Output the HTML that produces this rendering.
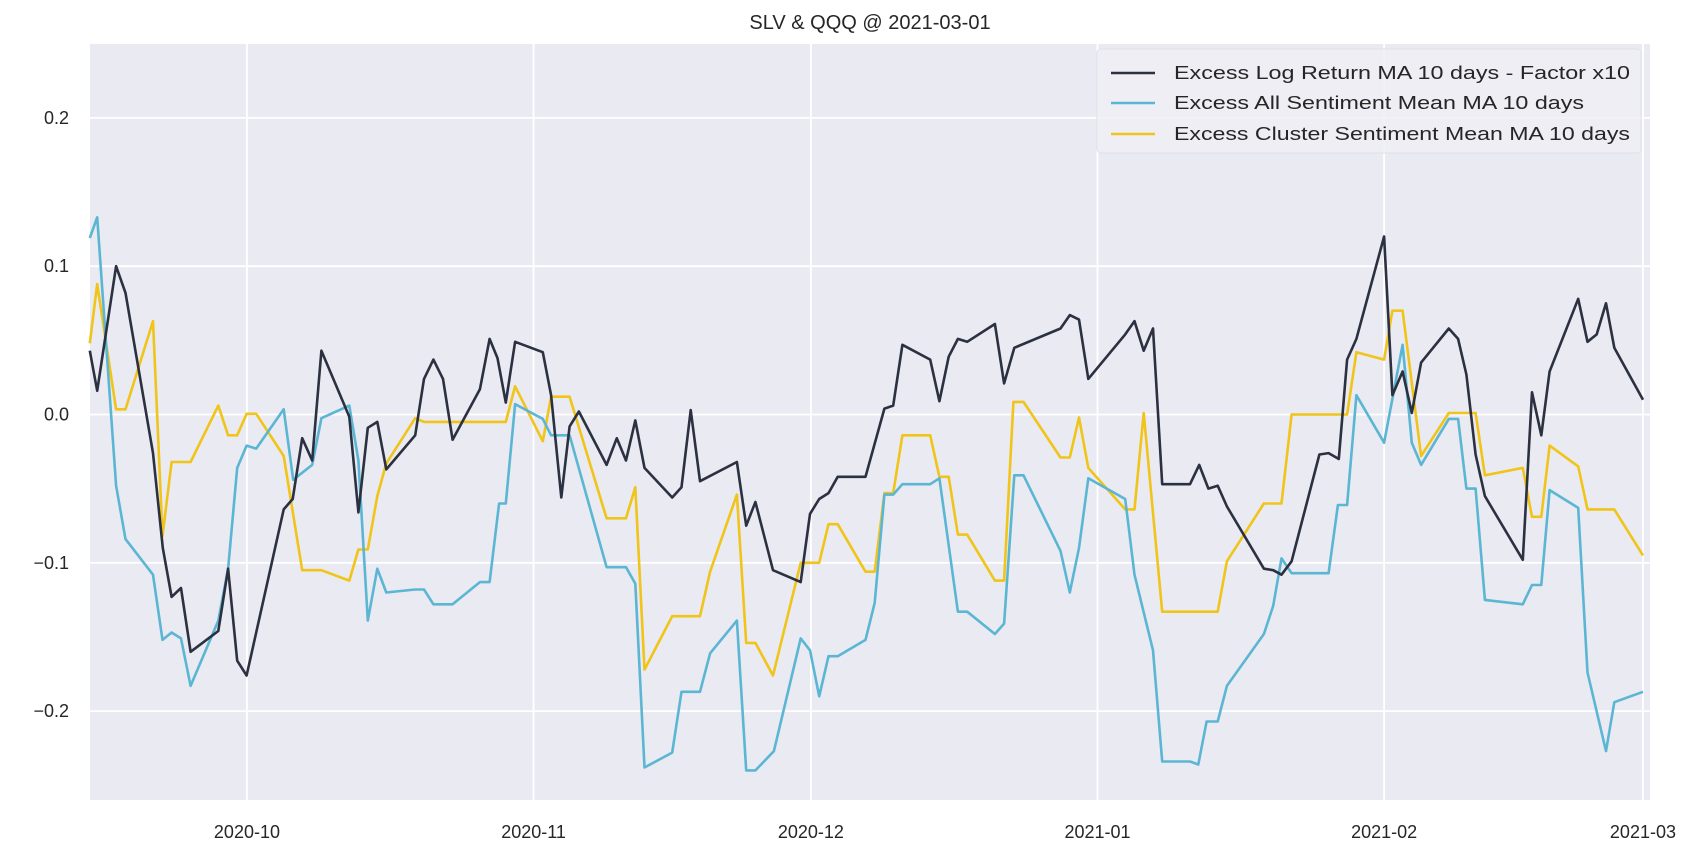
<!DOCTYPE html>
<html><head><meta charset="utf-8"><style>
html,body{margin:0;padding:0;background:#fff;}
svg{display:block;font-family:"Liberation Sans",sans-serif;}
</style></head><body>
<svg id="chart" width="1700" height="857" viewBox="0 0 1700 857" xmlns="http://www.w3.org/2000/svg">
<rect x="90" y="44" width="1560" height="756" fill="#EAEAF2"/>
<g id="grid"></g>
<g id="series"></g>
<g id="axes"></g>
<text x="870" y="29" text-anchor="middle" font-size="20" fill="#262626">SLV &amp; QQQ @ 2021-03-01</text>
<g>
<rect x="1097" y="49" width="544" height="104" rx="4" fill="#EEEEF5" fill-opacity="0.85" stroke="#E0E0E8"/>
<g>
<line x1="1111" y1="73" x2="1155" y2="73" stroke="#2B3140" stroke-width="2.6"/>
<text x="1174" y="79" font-size="18.5" fill="#262626" textLength="456" lengthAdjust="spacingAndGlyphs">Excess Log Return MA 10 days - Factor x10</text></g>
<g>
<line x1="1111" y1="103" x2="1155" y2="103" stroke="#5BB6D3" stroke-width="2.6"/>
<text x="1174" y="109" font-size="18.5" fill="#262626" textLength="410" lengthAdjust="spacingAndGlyphs">Excess All Sentiment Mean MA 10 days</text></g>
<g>
<line x1="1111" y1="134" x2="1155" y2="134" stroke="#F0C419" stroke-width="2.6"/>
<text x="1174" y="140" font-size="18.5" fill="#262626" textLength="456" lengthAdjust="spacingAndGlyphs">Excess Cluster Sentiment Mean MA 10 days</text></g>
</g>
</svg>
<script>
// days since 2020-09-14
const xTickDays = [17, 48, 78, 109, 140, 168];
const xTickLabels = ["2020-10","2020-11","2020-12","2021-01","2021-02","2021-03"];
const yTickValues = [-0.2, -0.1, 0.0, 0.1, 0.2];
const yTickLabels = ["\u22120.2","\u22120.1","0.0","0.1","0.2"];

const logDays = [0,0.8,2.84,3.86,6.84,7.9,8.85,9.87,10.9,13.9,14.96,15.94,16.96,20.97,21.95,22.97,24.06,25.05,28.07,29.05,30.07,31.1,32.07,35.2,36.15,37.17,38.2,39.24,42.2,43.25,44.1,45,46,49,49.9,51,51.9,52.9,55.9,57,58,59,60,63,64,65,66,70,71,72,73.9,76.9,77.9,78.9,79.9,80.9,83.9,85.95,86.9,87.9,90.9,91.9,92.9,93.9,94.9,97.9,98.9,100,105,106,107,108,112,113,114,115,116,119,120,121,122,123,127,128,128.9,130,133,134,135.1,136,137,140,140.9,142,143,144,147,148,148.9,149.9,150.9,155,156,157,157.9,161,162,163,164,164.9,168];
const logVals = [0.043,0.016,0.1,0.082,-0.026,-0.09,-0.123,-0.117,-0.16,-0.146,-0.104,-0.166,-0.176,-0.064,-0.057,-0.016,-0.031,0.043,-0.0015,-0.066,-0.009,-0.005,-0.037,-0.014,0.024,0.037,0.024,-0.017,0.017,0.051,0.038,0.008,0.049,0.042,0.013,-0.056,-0.008,0.002,-0.034,-0.016,-0.031,-0.004,-0.036,-0.056,-0.049,0.003,-0.045,-0.032,-0.075,-0.059,-0.105,-0.113,-0.067,-0.057,-0.053,-0.042,-0.042,0.004,0.006,0.047,0.037,0.009,0.039,0.051,0.049,0.061,0.021,0.045,0.058,0.067,0.064,0.024,0.054,0.063,0.043,0.058,-0.047,-0.047,-0.034,-0.05,-0.048,-0.062,-0.104,-0.105,-0.108,-0.099,-0.027,-0.026,-0.03,0.037,0.051,0.12,0.013,0.029,0.001,0.035,0.058,0.051,0.027,-0.027,-0.055,-0.098,0.015,-0.014,0.029,0.078,0.049,0.054,0.075,0.045,0.01];

const allDays = [0,0.8,2.84,3.86,6.84,7.86,8.85,9.87,10.9,13.9,14.96,15.94,16.96,18,20.97,22,24.06,25.05,28.07,29.05,30.07,31.1,32.07,35.2,36.15,37.17,39.24,42.2,43.25,44.27,45,46,49,49.9,51.9,55.9,58,59,60,63,64,66,67.1,70,71,72,74,76.9,77.9,78.9,79.9,80.9,83.9,84.9,85.95,86.9,87.9,90.9,91.9,93.9,94.9,97.9,98.9,100,101,105,106,107,108,112,113,115,116,119,119.9,120.8,122,123,127,128,128.9,130,134,135,136,137,140,142,143,144,147,148,148.9,149.9,150.9,155,156,157,157.9,161,162,164,164.9,168];
const allVals = [0.119,0.133,-0.048,-0.084,-0.108,-0.152,-0.147,-0.151,-0.183,-0.139,-0.104,-0.036,-0.021,-0.023,0.0035,-0.044,-0.034,-0.0025,0.006,-0.031,-0.139,-0.104,-0.12,-0.118,-0.118,-0.128,-0.128,-0.113,-0.113,-0.06,-0.06,0.007,-0.003,-0.014,-0.014,-0.103,-0.103,-0.114,-0.238,-0.228,-0.187,-0.187,-0.161,-0.139,-0.24,-0.24,-0.227,-0.151,-0.159,-0.19,-0.163,-0.163,-0.152,-0.127,-0.054,-0.054,-0.047,-0.047,-0.043,-0.133,-0.133,-0.148,-0.141,-0.041,-0.041,-0.092,-0.12,-0.09,-0.043,-0.057,-0.108,-0.159,-0.234,-0.234,-0.236,-0.207,-0.207,-0.183,-0.148,-0.129,-0.097,-0.107,-0.107,-0.061,-0.061,0.013,-0.019,0.047,-0.019,-0.034,-0.003,-0.003,-0.05,-0.05,-0.125,-0.128,-0.115,-0.115,-0.051,-0.063,-0.174,-0.227,-0.194,-0.187];

const clusterDays = [0,0.8,2.84,3.86,6.84,7.86,8.85,10.9,13.9,14.96,15.94,16.96,18,20.97,22.97,25.05,28.07,29.05,30.07,31.1,32.07,35.2,36.15,45,46,49,49.9,51.9,55.9,58,59,60,63,66,67.1,70,71,72,73.9,76.9,78.9,79.9,80.9,83.9,84.9,85.95,86.9,87.9,90.9,91.9,92.9,93.9,94.9,97.9,98.9,99.9,101,105,106,107,108,112,113,114,116,122,123,127,128.9,130,136,137,140,140.9,142,144,147,149.9,150.9,155,156,157,157.9,161,162,164.9,168];
const clusterVals = [0.048,0.088,0.0035,0.0035,0.063,-0.082,-0.032,-0.032,0.006,-0.014,-0.014,0.0005,0.0005,-0.028,-0.105,-0.105,-0.112,-0.091,-0.091,-0.055,-0.033,-0.0025,-0.005,-0.005,0.019,-0.018,0.012,0.012,-0.07,-0.07,-0.049,-0.172,-0.136,-0.136,-0.106,-0.054,-0.154,-0.154,-0.176,-0.1,-0.1,-0.074,-0.074,-0.106,-0.106,-0.053,-0.053,-0.014,-0.014,-0.042,-0.042,-0.081,-0.081,-0.112,-0.112,0.0085,0.0085,-0.029,-0.029,-0.002,-0.036,-0.064,-0.064,0.001,-0.133,-0.133,-0.099,-0.06,-0.06,0.0,0.0,0.042,0.037,0.07,0.07,-0.028,0.001,0.001,-0.041,-0.036,-0.069,-0.069,-0.021,-0.035,-0.064,-0.064,-0.095];

const PL=90, PR=1650, PT=44, PB=800;
function xScale(d){ return 89.8 + d*9.245; }
function yScale(v){ return 414.5 - v*1483; }
const NS="http://www.w3.org/2000/svg";
const grid=document.getElementById('grid'), axes=document.getElementById('axes'), series=document.getElementById('series');

yTickValues.forEach((v,i)=>{
  const y=yScale(v);
  const l=document.createElementNS(NS,'line');
  l.setAttribute('x1',PL);l.setAttribute('x2',PR);l.setAttribute('y1',y);l.setAttribute('y2',y);
  l.setAttribute('stroke','#fff');l.setAttribute('stroke-width','1.8');
  
  
  grid.appendChild(l);
  const t=document.createElementNS(NS,'text');
  t.setAttribute('x',69);t.setAttribute('y',y+6);t.setAttribute('text-anchor','end');
  t.setAttribute('font-size','18');t.setAttribute('fill','#262626');
  t.textContent=yTickLabels[i];
  
  
  axes.appendChild(t);
});
xTickDays.forEach((d,i)=>{
  const x=xScale(d);
  const l=document.createElementNS(NS,'line');
  l.setAttribute('x1',x);l.setAttribute('x2',x);l.setAttribute('y1',PT);l.setAttribute('y2',PB);
  l.setAttribute('stroke','#fff');l.setAttribute('stroke-width','1.8');
  
  
  grid.appendChild(l);
  const t=document.createElementNS(NS,'text');
  t.setAttribute('x',x);t.setAttribute('y',838);t.setAttribute('text-anchor','middle');
  t.setAttribute('font-size','18');t.setAttribute('fill','#262626');
  t.textContent=xTickLabels[i];
  
  
  axes.appendChild(t);
});
function drawLine(days, vals, color, name){
  const p=document.createElementNS(NS,'polyline');
  p.setAttribute('points', days.map((d,i)=>xScale(d).toFixed(1)+','+yScale(vals[i]).toFixed(1)).join(' '));
  p.setAttribute('fill','none');p.setAttribute('stroke',color);p.setAttribute('stroke-width','2.6');
  p.setAttribute('stroke-linejoin','round');
  
  
  series.appendChild(p);
}
drawLine(clusterDays, clusterVals, '#F0C419', 'cluster-sentiment-line');
drawLine(allDays, allVals, '#5BB6D3', 'all-sentiment-line');
drawLine(logDays, logVals, '#2B3140', 'log-return-line');
</script>
</body></html>
